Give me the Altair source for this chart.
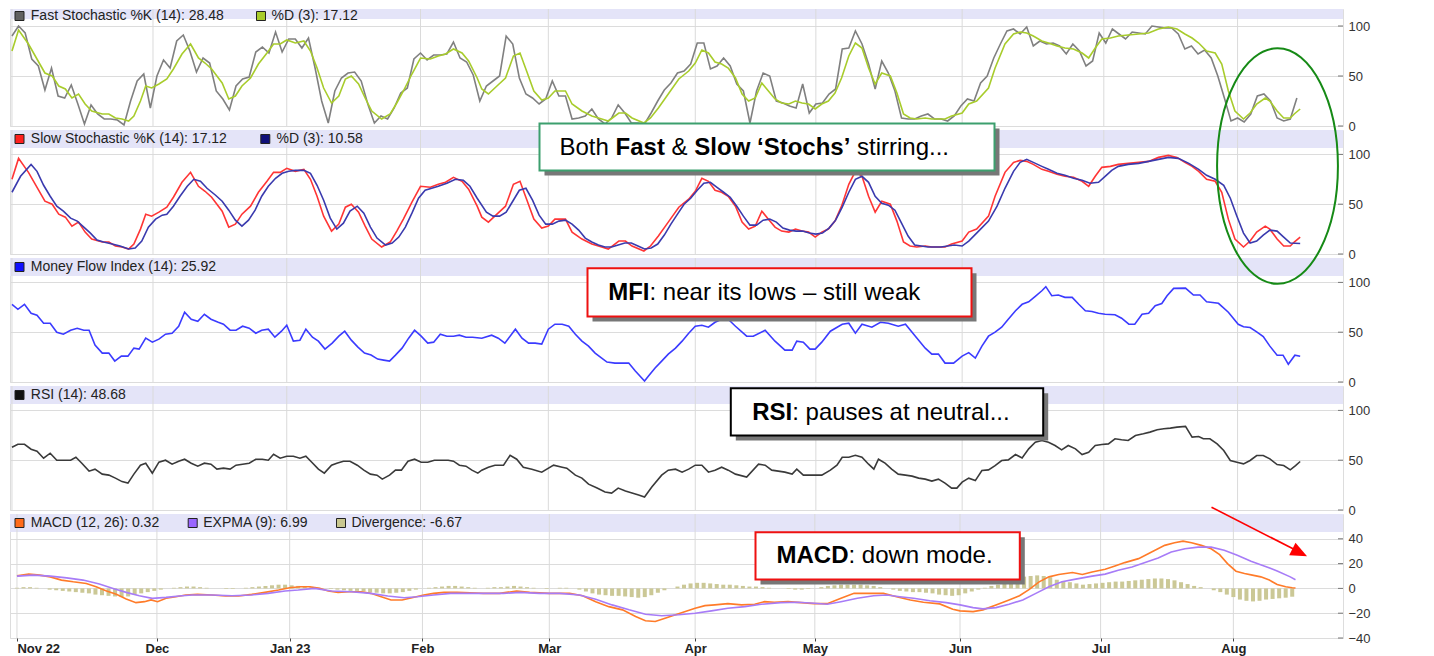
import altair as alt
import pandas as pd

FONT = "Liberation Sans"
W = 1333
H_TOP = 117
H = 124
X_DOMAIN = [-0.3, 202]
BAND = "#e4e4f8"

# month start positions (trading-day units) and labels
MONTH_POS = [0, 21.4, 41.7, 62, 81.4, 103.7, 122, 144.2, 165.7, 186]
MONTH_LABELS = ["Nov 22", "Dec", "Jan 23", "Feb", "Mar", "Apr", "May", "Jun", "Jul", "Aug"]

# ---------------- data ----------------
FAST_K = [90, 100, 93, 67, 60, 36, 58, 30, 28, 41, 22, 2, 21, 12, 7, 7, 6, 1, 25, 45,
          52, 18, 50, 66, 58, 85, 91, 75, 54, 68, 63, 35, 27, 16, 40, 47, 49, 74, 79, 73,
          94, 74, 87, 87, 78, 88, 58, 25, 3, 35, 48, 53, 54, 45, 22, 3, 10, 7, 18, 33,
          38, 67, 73, 66, 71, 71, 72, 84, 68, 64, 51, 25, 40, 45, 50, 90, 82, 48, 32, 28,
          22, 27, 45, 30, 30, 7, 8, 10, 17, 7, 2, 8, 21, 13, 3, 3, 2, 13, 25, 36,
          43, 53, 55, 62, 83, 83, 57, 60, 68, 60, 42, 35, 3, 35, 53, 50, 25, 23, 20, 18,
          42, 13, 22, 23, 32, 37, 77, 78, 95, 82, 62, 37, 65, 53, 35, 8, 7, 7, 10, 12,
          7, 7, 5, 10, 20, 27, 25, 43, 50, 68, 82, 95, 97, 92, 99, 80, 85, 82, 83, 80,
          72, 82, 75, 60, 65, 93, 83, 97, 92, 87, 94, 93, 92, 100, 99, 98, 98, 92, 77, 80,
          72, 76, 68, 50, 28, 5, 8, 4, 12, 30, 32, 25, 8, 5, 7, 28]

FAST_D_T = [0, 1, 2.5, 5, 6.1, 7.1, 8.1, 9.1, 10.1, 11.1, 12.1, 13.7, 14.7, 15.7, 16.7, 17.7,
            18.5, 19.5, 20.3, 21.2, 22.3, 23.5, 24.5, 25.8, 27.1, 28.3, 29.3, 30.3, 31.9, 32.9,
            33.9, 34.9, 36.2, 37.4, 38.7, 39.7, 40.7, 41.7, 43, 44.3, 45.3, 46.3, 47.3, 48.5,
            49.6, 50.6, 51.5, 52.6, 53.6, 54.6, 56.1, 57.4, 58.4, 59.4, 60.7, 62, 63.5, 64.7,
            65.8, 67, 68.3, 69.3, 70.6,
            71.3, 72.3, 73.6, 74.9, 76.1, 77.1, 78.1, 79.2, 80.4, 81.4, 82.4, 84, 85, 86.5, 88,
            89.5, 90.5, 92.1, 93.1, 94.1, 95.9, 96.9, 98.1, 99.6, 101.2, 102.7, 103.7, 104.7,
            105.7, 106.7, 107.7, 108.7, 109.8, 110.8, 111.8, 112.8, 113.8, 114.8, 115.8, 116.8,
            117.9, 118.9, 119.9, 120.9, 121.9, 122.9, 123.9, 124.9, 125.9, 127, 128, 129, 130,
            131, 132, 133.3, 134.3, 135.3, 136.3, 137.3, 138.6, 139.6, 140.6, 141.6, 142.6,
            144.2, 145.2, 146.4, 148.2, 149.2, 150.7, 152, 153, 154, 155, 156.3, 157.3, 158.6,
            159.8, 161.1, 162.4, 163.4, 164.4, 165.4, 166.7, 167.9, 169.4, 171, 172.5, 174,
            175.5, 176.8, 178, 179.1, 180.1, 181.3, 182.6, 183.6, 184.6, 185.6, 186.9, 187.9,
            188.9, 190.2, 190.9, 192, 193, 194, 194.6, 195.5]
FAST_D = [75, 96, 82, 53, 50, 40, 37, 28, 32, 22, 15, 12, 12, 8, 7, 5, 10, 25, 40, 38,
          42, 47, 57, 72, 82, 68, 63, 57, 43, 27, 30, 40, 48, 62, 73, 82, 82, 86, 83, 85,
          75, 58, 38, 23, 30, 47, 50, 42, 28, 15, 7, 12, 23, 35, 52, 68, 67, 70, 72, 77,
          73, 65, 48,
          37, 32, 40, 48, 70, 73, 55, 35, 26, 28, 35, 35, 22, 15, 10, 7, 5, 13, 13, 8,
          3, 8, 18, 32, 47, 55, 63, 76, 73, 64, 62, 58, 48, 32, 25, 28, 43, 35, 27, 23,
          22, 25, 23, 22, 17, 22, 25, 33, 48, 70, 83, 78, 58, 42, 53, 50, 33, 12, 8, 7,
          8, 7, 7, 7, 10,
          13, 22, 25, 38, 58, 82, 92, 94, 93, 90, 85, 83, 80, 78, 77, 73, 68, 78, 87, 88,
          90, 91, 92, 93, 97, 99, 97, 92, 88, 83, 75, 73, 62, 35, 15, 7, 13, 22, 28, 25,
          15, 8, 8, 12, 17]

SLOW_D_T = [0, 1.3, 2.9, 3.8, 4.8, 5.8, 6.8, 7.8, 8.9, 9.9, 10.9, 11.9, 12.9, 13.9, 15.2,
            16.4, 17.7, 18.7, 19.7, 20.7, 21.8, 22.8, 23.5, 24.5, 25.5, 26.6, 27.6, 28.6,
            29.6, 30.9, 31.9, 32.9, 33.9, 34.9, 35.9, 36.9, 37.9, 38.9, 40, 41, 42, 43, 44.3,
            45.3, 46.3, 47.3, 48.3, 49.3, 50.3, 51.3, 52.4, 53.4, 54.4, 55.4, 56.7, 57.7,
            58.7, 59.7, 60.7, 61.7, 62.7, 63.7, 64.7, 66, 67.3, 68.5, 69.5, 70.6,
            72, 73, 74, 75, 76, 77, 78, 79, 80, 81, 82, 83, 84, 85, 86, 87, 88, 89, 90, 91,
            92, 93, 94, 95, 96, 97, 98, 99, 100, 101, 102, 103, 104, 105, 106, 107, 108, 109,
            110, 111, 112, 113, 114, 115, 116, 117, 118, 119, 120, 121, 122, 123, 124, 125,
            126, 127, 128, 129, 130, 131, 132, 133, 134, 135, 136, 137, 138, 139, 140, 141,
            142, 143,
            144.2, 145.2, 146.4, 148.2, 149.5, 150.7, 152, 153, 154, 155, 156.3, 157.3,
            158.6, 159.8, 161.1, 162.4, 163.6, 164.9, 165.9, 166.9, 167.9, 169.4, 171,
            172.5, 174, 175.5, 177, 178.6, 180.1, 181.3, 182.6, 183.9, 184.9, 185.9, 186.9,
            187.9, 188.9, 189.9, 190.9, 192, 193, 194, 195.5]
SLOW_D = [62, 78, 90, 83, 69, 58, 48, 43, 36, 33, 27, 21, 14, 12, 10, 8, 5, 6, 13, 27,
          35, 39, 40, 48, 58, 68, 75, 73, 66, 59, 53, 44, 34, 28, 34, 44, 58, 68, 76, 81,
          83, 84, 84, 81, 69, 54, 36, 25, 31, 43, 48, 41, 27, 16, 9, 11, 17, 27, 41, 56,
          64, 66, 68, 71, 75, 74, 68, 56,
          42, 38, 38, 42, 53, 64, 66, 54, 39, 30, 30, 33, 34, 30, 24, 16, 12, 9, 7, 7,
          9, 11, 11, 8, 5, 6, 10, 19, 30, 40, 50, 56, 64, 71, 72, 67, 62, 57, 48, 38,
          29, 29, 34, 35, 32, 26, 24, 23, 23, 21, 20, 21, 26, 34, 47, 62, 75, 78, 72, 58,
          51, 49, 44, 31, 18, 9, 8, 7, 7, 7, 8, 9,
          8, 13, 21, 33, 48, 66, 83, 92, 95, 92, 88, 85, 81, 79, 76, 74, 71, 72, 78, 84,
          88, 90, 91, 93, 95, 97, 96, 91, 85, 79, 75, 69, 56, 38, 21, 11, 13, 19, 24, 23,
          17, 11, 10.6]

MFI_T = [0, 0.9, 1.9, 2.9, 3.8, 4.8, 5.8, 6.8, 7.8, 8.9, 9.9, 10.9, 11.7, 12.6, 13.7, 14.7,
         15.6, 16.6, 17.6, 18.5, 19.3, 20.3, 21.3, 22.3, 23.3, 24.3, 25.3, 26.2, 27.2, 28.2,
         29.2, 30.2, 31.3, 32.1, 33.1, 34, 35, 36, 37, 37.9, 38.9, 39.9, 40.9, 41.7, 42.7,
         43.7, 44.6, 45.6, 46.5, 47.5, 48.6, 49.6, 50.5, 51.5, 52.5, 53.5, 54.5, 55.5, 56.4,
         57.3, 58.2, 59.2, 60.2, 61.1, 62.1, 63.1, 64, 65, 66, 67, 67.9, 68.9, 69.9,
         71.3, 72.8, 73.8, 74.8, 76.4, 77.4, 78.4, 79.4, 80.4, 81.4, 82.4, 83.5, 84.5, 85.5,
         86.5, 87.5, 88.5, 89.5, 90.3, 91.5, 92.6, 93.6, 94.6, 96, 96.6, 97.6, 98.6, 99.6,
         100.7, 101.7, 102.7, 103.7, 104.7, 105.7, 106.7, 107.7, 108.7, 109.8, 111.5, 112.5,
         114.3, 115.8, 117.3, 118.4, 119.1, 120.1, 121.1, 121.9, 122.9, 124.2, 126, 127, 128,
         129, 130.5, 131.8, 133, 134.5, 135.6, 137.1, 138.6, 139.6, 140.6, 141.6, 142.9,
         144.2, 145.2, 146.2, 147.2, 148.2, 149.2, 150.2, 151.2, 152.3, 153.3, 154.3, 155.3,
         156.3, 156.9, 157.8, 158.8, 159.8, 160.9, 161.9, 162.9, 163.9, 164.9, 165.9, 167.4,
         168.4, 169.5, 170.4, 171.5, 172.5, 173.5, 174.5, 175.3, 176.3, 178.1, 179.3, 180.3,
         181.3, 183.1, 184.6, 186.1, 186.9, 187.9, 188.9, 189.9, 190.9, 192, 192.9, 193.7,
         194.7, 195.5]
MFI = [78, 73, 78, 69, 67, 59, 59, 50, 48, 52, 54, 52, 52, 37, 29, 29, 21, 26, 26, 34,
       33, 44, 40, 43, 48, 49, 56, 70, 63, 61, 68, 63, 60, 58, 52, 52, 56, 54, 49, 52,
       53, 45, 51, 57, 41, 42, 53, 45, 41, 33, 39, 46, 51, 42, 35, 29, 27, 23, 22, 21,
       27, 34, 44, 52, 46, 39, 40, 48, 46, 46, 47, 45, 45,
       44, 47, 44, 39, 53, 44, 39, 39, 38, 53, 58, 58, 56, 48, 41, 36, 29, 24, 20, 19,
       19, 19, 11, 1, 6, 14, 21, 28, 34, 41, 49, 56, 57, 55, 60, 63, 63, 56, 46, 46,
       52, 41, 32, 32, 41, 40, 33, 33, 40, 51, 58, 59, 49, 58, 55, 60, 59, 56, 58, 46,
       34, 28, 28, 19, 19,
       26, 29.5, 24, 36, 46, 50, 55, 63, 71.5, 78, 80.5, 86, 91.6, 95.7, 86.6, 87.3, 85,
       85, 78, 71.5, 70.8, 69, 68, 67.5, 64, 58, 58, 68, 69, 76.5, 78.8, 86.6, 94, 94.3,
       87.3, 87.3, 80.5, 79, 70, 58, 55.4, 54.7, 50.4, 45.6, 36, 26.9, 26.9, 17.8, 26.9,
       25.9]

RSI_T = [0, 0.9, 1.9, 2.9, 3.8, 4.8, 5.8, 6.8, 7.8, 8.9, 9.7, 10.6, 11.7, 12.6, 13.7, 14.7,
         15.7, 16.7, 17.6, 18.5, 19.5, 20.3, 21.3, 22.3, 23.3, 24.3, 25.3, 26.2, 27.2, 28.2,
         29.2, 30.2, 31.1, 32.1, 33.1, 34, 35, 36, 37, 38, 38.9, 39.7, 40.7, 41.7, 42.7,
         43.7, 44.6, 45.5, 46.5, 47.4, 48.5, 49.3, 50.3, 51.3, 52.4, 53.4, 54.4, 55.4, 56.2,
         57.3, 58.2, 59.1, 60.1, 61.1, 62.1, 63.1, 64.1, 65.1, 66.2, 67, 67.9, 68.9, 69.8,
         70.7,
         71.3, 72.3, 73.3, 74.6, 75.6, 76.6, 77.6, 78.9, 80.4, 82.2, 83.5, 84.2, 85.5, 86.5,
         87.5, 88.8, 90, 91, 92, 93.1, 94.1, 95.1, 96, 97.1, 98.6, 99.6, 100.7, 101.7,
         102.7, 103.7, 104.7, 105.7, 106.7, 107.7, 108.7, 109.8, 111.5, 113.3, 114.3, 115.3,
         116.3, 117.3, 118.4, 119.1, 120.1, 121.1, 122.2, 122.9, 124.2, 125.2, 126, 127,
         128, 129, 130, 130.8, 131.5, 132.5, 133.5, 134.5, 135.6, 136.6, 137.6, 138.6,
         139.6, 140.6, 141.6, 142.6, 143.4,
         144.2, 145.2, 146.2, 147.2, 148.2, 149.2, 150.2, 151.2, 152.3, 153.3, 154.3, 155.3,
         156.3, 157.3, 158.3, 159.3, 160.3, 161.4, 162.4, 163.4, 164.4, 165.4, 166.4, 167.4,
         168.4, 169.4, 170.5, 171.7, 172.7, 173.8, 174.8, 175.8, 176.8, 178.1, 179.1, 180.1,
         180.8, 181.8, 182.9, 183.9, 184.9, 185.9, 186.9, 187.9, 188.9, 189.9, 190.9, 192,
         193, 194, 194.8, 195.5]
RSI = [63, 66, 66, 61, 59, 52, 57, 50, 50, 50, 53, 47, 39, 41, 36, 35, 32, 28.5, 27, 36,
       45, 47, 37, 48, 50, 46, 49, 51, 47, 44, 47, 46, 41, 42, 41, 45, 46, 47, 51, 51,
       50, 56, 52, 54, 54, 52, 54, 48, 41, 37, 45, 47, 49, 49, 45, 40, 36, 35, 31, 35,
       40, 40, 49, 51, 48, 48, 50, 50, 50, 49, 45, 44, 40, 37,
       40, 43, 45, 45, 55, 51, 43, 41, 38, 45, 43, 42, 35, 32, 26, 22, 18, 17, 22, 19,
       17, 15, 13, 23, 35, 40, 41, 38, 41, 45, 45, 38, 40, 43, 40, 36, 33, 46, 45, 40,
       39, 38, 36, 41, 35, 35, 35, 35, 40, 45, 53, 53, 55, 53, 46, 41, 51, 47, 41, 36,
       35, 34, 32, 31, 29, 31, 27, 22, 22,
       28, 32, 29.5, 39.6, 40.3, 44.6, 49.7, 50.3, 55.7, 52.3, 61.4, 68, 69.8, 68, 64.8,
       60.4, 64.8, 61.4, 55.7, 58, 64.8, 65.8, 66.4, 71.5, 70.5, 69.8, 74.8, 76.5, 78.2,
       80.5, 81.5, 82.2, 83.2, 83.9, 73.2, 73.8, 71.5, 71.5, 66.4, 59.7, 49.7, 48, 46.3,
       49.7, 54.7, 54.7, 51.3, 45.6, 44.6, 40.3, 44.6, 48.7]

MACD_T = [0, 1.8, 3.5, 5.1, 6.8, 8.6, 10.6, 12.1, 13.7, 15.2, 16.7, 18.2, 19.5, 20.5, 21.5,
          22.8, 24.3, 25.8, 27.6, 29.8, 31.9, 33.9, 35.9, 37.9, 40, 41.7, 43.3, 44.8, 46.3,
          47.6, 49.1, 50.8, 52.6, 54.1, 55.7, 57.2, 58.9, 60.4, 62.2, 63.7, 65.3, 67.3, 69.3,
          71.3, 73.8, 76.4, 78.4, 81.4, 84.5, 86.5, 88.5, 90.5, 92.6, 94.6, 96.1, 97.6, 99.1,
          100.7, 102.2, 103.7, 105.2, 106.7, 108.7, 110.8, 112.8, 114.3, 115.8, 117.9, 119.9,
          121.9, 123.9, 126, 128, 130, 132.5, 134.5, 136.6, 138.6, 141.1, 143.1,
          144.2, 146.2, 147.7, 149.7, 151.7, 153.3, 154.8, 156.3, 157.8, 159.3, 161.4, 162.9,
          164.4, 166.4, 167.9, 169.4, 171.5, 173.5, 175.5, 177, 178.3, 179.6, 181.1, 182.6,
          183.9, 185.1, 186.4, 187.7, 188.9, 190.2, 191.5, 192.7, 194, 195, 195.5]
MACD = [10.1, 11.5, 10.7, 9.3, 6.7, 5.3, 4, 1.3, -2.1, -4.8, -8.5, -11.5, -10.7, -9.3, -10.7,
        -8, -6.7, -5.3, -4.8, -5.3, -6.1, -6.1, -4.8, -3.2, -1.3, 0.5, 1.3, 1.3, 0, -2.1,
        -3.2, -2.7, -2.7, -4, -6.7, -9.3, -9.3, -7.5, -5.3, -4, -3.2, -3.2, -3.5,
        -4, -4, -2.1, -3.2, -4, -4, -5.9, -10.7, -14.7, -17.3, -22.7, -26.1, -26.7, -24,
        -21.3, -18.7, -16, -13.9, -13.3, -12.3, -13.3, -12.8, -10.7, -11.2, -10.7, -11.5,
        -12.3, -12.3, -8, -4, -4, -4, -6.7, -9.3, -11.2, -12.5, -16.8,
        -18.1, -18.7, -17.3, -13.3, -9.3, -5.9, -0.8, 5.3, 9.3, 11.2, 12.8, 11.2, 13.3, 15.5,
        18.1, 20.8, 24, 29.3, 34.7, 36.8, 38.1, 36.8, 34.7, 32, 27.2, 20, 13.9, 12, 10.7,
        9.3, 6.7, 3.2, 1.3, 0.5, 0.3]

SIGNAL_T = [0, 2.5, 5.1, 7.6, 10.1, 12.6, 14.7, 16.7, 18.7, 20.7, 22.8, 24.8, 26.8, 29.8,
            32.9, 35.9, 38.4, 41, 43, 45.5, 48.1, 51.1, 54.1, 56.7, 59.2, 61.2, 63.7, 66.3,
            69.3,
            71.3, 74.4, 76.9, 79.9, 83, 86, 88.5, 91, 93.6, 96.1, 98.6, 101.2, 103.7, 106.2,
            108.7, 111.3, 113.8, 116.8, 119.4, 121.9, 123.9, 126, 128.5, 131, 133, 135, 137.1,
            139.6, 142.1,
            144.2, 146.2, 147.7, 149.7, 151.7, 153.8, 155.8, 157.8, 159.8, 161.9, 164.4,
            166.4, 168.4, 170.5, 172.5, 174.5, 176.5, 178.6, 180.6, 182.6, 184.6, 186.6,
            188.7, 190.7, 192.7, 194.7, 195.5]
SIGNAL = [9.9, 10.7, 9.9, 8.5, 6.7, 3.5, 0, -3.2, -5.9, -8, -7.2, -6.1, -5.3, -5.3, -5.9,
          -5.3, -4, -2.1, -1.3, 0, -2.1, -2.7, -4, -6.1, -7.5, -6.7, -5.3, -4, -4,
          -4, -4, -3.2, -4, -4, -5.3, -8.8, -13.3, -17.3, -20.8, -22.1, -21.3, -20, -18.1,
          -16, -14.7, -12.8, -11.5, -11.2, -12, -12.8, -10.7, -8, -5.9, -5.3, -6.7, -8, -9.9,
          -11.5,
          -13.3, -15.5, -16.5, -15.5, -12.8, -9.3, -4, 1.3, 5.3, 7.5, 9.9, 11.5, 14.7, 17.3,
          20.8, 24.5, 29.3, 32, 33.3, 33.3, 30.7, 26.7, 21.9, 18.1, 14.1, 9.3, 7]

DIVERGENCE = [0.5, 1, 1, 0.5, 0, -1, -1.5, -2, -2.5, -3,
              -3.5, -4, -5, -5.5, -6, -6.5, -7, -6.5, -5, -4,
              -3, -2, -1, 0, 0.5, 1, 1.5, 1.5, 1, 0.5,
              0, 0, -0.5, -0.5, 0, 0.5, 1, 1.5, 2, 2.5,
              3, 3, 2.5, 2, 1.5, 1, 0.5, 0, -0.5, -1,
              -1.5, -2, -2, -2.5, -3, -3.5, -4, -4, -3.5, -3,
              -2, -1, 0, 0.5, 1, 1.5, 2, 2, 1.5, 1,
              0.5, 0, 0.5, 1, 1, 1.5, 2, 1.5, 1, 0.5,
              0, -0.5, 0, 0.5, 0.5, 0, -1, -2.5, -4, -5,
              -5.5, -6, -6, -6.5, -7, -7.5, -7, -5.5, -3.5, -1.5,
              0, 1.5, 3, 4, 4.5, 4.5, 4, 3.5, 3, 3,
              2.5, 2, 1.5, 1.5, 1, 0.5, 0, 0, -0.5, -1,
              -1, -0.5, 0, 1, 2, 2.5, 3, 3, 3, 3,
              2.5, 2, 1, 0, -1, -2, -2.5, -3, -3, -3.5,
              -4, -5, -5.5, -6, -5.5, -4, -2.5, -1, 0.5, 2,
              3, 4.5, 6, 8, 9.5, 10, 10.5, 10, 9, 7,
              6, 5, 4, 3, 3.5, 4, 4.5, 5, 5.5, 5.5,
              6, 6.5, 7, 7.5, 8, 8, 7.5, 6.5, 5, 3.5,
              2, 1, 0, -1.5, -3, -5, -7, -9, -10, -10.5,
              -10, -9, -8.5, -8, -7.5, -6.7]

# ---------------- helpers ----------------
ONE = alt.Data(values=[{"k": 0}])
xscale = alt.Scale(domain=X_DOMAIN, nice=False, zero=False)

LABEL_EXPR = ""
for p, l in zip(MONTH_POS, MONTH_LABELS):
    LABEL_EXPR += f"abs(datum.value - {p}) < 0.05 ? '{l}' : "
LABEL_EXPR += "''"


def df(ts, vs):
    return pd.DataFrame({"t": ts, "v": vs})


def make_panel(h, ydom, yticks, band_px, series, header_items, header_y,
               bottom=False, bars=None, extras=()):
    yscale = alt.Scale(domain=ydom, nice=False, zero=False)
    yax = alt.Axis(orient="right", values=yticks, grid=True, gridColor="#dcdcdc",
                   gridWidth=1, ticks=False, domain=False, labelPadding=5,
                   labelFont=FONT, labelFontSize=13, labelColor="#333", title=None)
    if bottom:
        xax = alt.Axis(values=MONTH_POS, labelExpr=LABEL_EXPR, grid=False, domain=False,
                       ticks=True, tickSize=3, tickColor="#444", labelFont=FONT,
                       labelFontSize=13, labelFontWeight="bold", labelColor="#222",
                       labelPadding=1, labelFlush=12, labelOverlap=False, title=None)
    else:
        xax = alt.Axis(values=MONTH_POS, labels=False, ticks=False, domain=False,
                       grid=False, title=None)
    X = alt.X("t:Q", scale=xscale, axis=xax)
    Y = alt.Y("v:Q", scale=yscale, axis=yax)

    layers = []
    layers.append(alt.Chart(ONE).mark_rect(color=BAND).encode(
        x=alt.value(0), x2=alt.value(W), y=alt.value(0), y2=alt.value(band_px)))
    layers.append(alt.Chart(pd.DataFrame({"t": MONTH_POS})).mark_rule(
        color="#dadada", strokeWidth=1).encode(x=X))
    layers.append(alt.Chart(pd.DataFrame({"v": yticks})).mark_rule(
        color="#777", strokeWidth=1).encode(y=Y, x=alt.value(W - 5), x2=alt.value(W)))
    if bars is not None:
        layers.append(alt.Chart(bars).mark_bar(color="#cbc896", size=4).encode(x=X, y=Y))
    for data, color in series:
        layers.append(alt.Chart(data).mark_line(color=color, strokeWidth=1.6).encode(x=X, y=Y))
    for sq_x, color, tx, label in header_items:
        layers.append(alt.Chart(ONE).mark_rect(fill=color, stroke="#222", strokeWidth=1).encode(
            x=alt.value(sq_x), x2=alt.value(sq_x + 9), y=alt.value(header_y - 4.5),
            y2=alt.value(header_y + 4.5)))
        layers.append(alt.Chart(ONE).mark_text(
            text=label, align="left", baseline="middle", font=FONT, fontSize=14,
            color="#222").encode(x=alt.value(tx), y=alt.value(header_y)))
    layers.extend(extras)
    return alt.layer(*layers).properties(width=W, height=h)


def box(x1, y1, x2, y2, border, segments, ty):
    out = [
        alt.Chart(ONE).mark_rect(fill="#777777").encode(
            x=alt.value(x1 + 5), x2=alt.value(x2 + 5), y=alt.value(y1 + 5), y2=alt.value(y2 + 5)),
        alt.Chart(ONE).mark_rect(fill="white", stroke=border, strokeWidth=2).encode(
            x=alt.value(x1), x2=alt.value(x2), y=alt.value(y1), y2=alt.value(y2)),
    ]
    for tx, txt, weight in segments:
        out.append(alt.Chart(ONE).mark_text(
            text=txt, align="left", baseline="middle", font=FONT, fontSize=24,
            fontWeight=weight, color="#000").encode(x=alt.value(tx), y=alt.value(ty)))
    return out


ELLIPSE = ("M 0.513 0 C 0.513 0.552 0.283 1 0 1 C -0.283 1 -0.513 0.552 -0.513 0 "
           "C -0.513 -0.552 -0.283 -1 0 -1 C 0.283 -1 0.513 -0.552 0.513 0 Z")
ARROW = "M -1 -0.85 L 1 0 L -1 0.85 Z"

# ---------------- panels ----------------
p1 = make_panel(
    H_TOP, [0, 117], [0, 50, 100], 10,
    [(df(list(range(len(FAST_K))), FAST_K), "#808080"), (df(FAST_D_T, FAST_D), "#a8cc2c")],
    [(5, "#606060", 20.8, "Fast Stochastic %K (14): 28.48"),
     (246.5, "#a8cc2c", 261.5, "%D (3): 17.12")],
    7)

green_box = box(529.5, -6.5, 984.5, 40.5, "#3c9f6e",
                [(549.5, "Both", "normal"), (605.6, "Fast", "bold"), (661.6, "&", "normal"),
                 (684.3, "Slow \u2018Stochs\u2019", "bold"), (847, "stirring...", "normal")], 17.5)
p2 = make_panel(
    H, [0, 124.5], [0, 50, 100], 18,
    [(df(FAST_D_T, FAST_D), "#ff3535"), (df(SLOW_D_T, SLOW_D), "#3a3aae")],
    [(5, "#ff2020", 20.8, "Slow Stochastic %K (14): 17.12"),
     (250.8, "#10107a", 266.5, "%D (3): 10.58")],
    9, extras=green_box)

mfi_box = box(577.5, 10.2, 961.5, 58.5, "#ee1111",
              [(598.2, "MFI", "bold"), (639.5, ": near its lows \u2013 still weak", "normal")], 34.5)
ellipse = [alt.Chart(ONE).mark_point(
    shape=ELLIPSE, size=55500, filled=False, color="#168a16", strokeWidth=2,
    opacity=1).encode(x=alt.value(1267.5), y=alt.value(-92))]
p3 = make_panel(
    H, [0, 124.5], [0, 50, 100], 18,
    [(df(MFI_T, MFI), "#3b3bff")],
    [(5, "#1010ff", 20.8, "Money Flow Index (14): 25.92")],
    9, extras=mfi_box + ellipse)

rsi_box = box(720.8, 2.2, 1033.2, 49.5, "#000000",
              [(742.2, "RSI", "bold"), (782.2, ": pauses at neutral...", "normal")], 26.5)
p4 = make_panel(
    H, [0, 124.5], [0, 50, 100], 18,
    [(df(RSI_T, RSI), "#3a3a3a")],
    [(5, "#111111", 20.8, "RSI (14): 48.68")],
    9, extras=rsi_box)

macd_box = box(745.5, 18.2, 1009.8, 65.5, "#ee1111",
               [(766.5, "MACD", "bold"), (838.5, ": down mode.", "normal")], 42)
arrow = [
    alt.Chart(ONE).mark_rule(color="#ff0000", strokeWidth=1.6).encode(
        x=alt.value(1201.5), y=alt.value(-6.8), x2=alt.value(1283.5), y2=alt.value(35)),
    alt.Chart(ONE).mark_point(shape=ARROW, size=272, filled=True, color="#ff0000",
                              angle=26.8, opacity=1).encode(
        x=alt.value(1289.7), y=alt.value(38.6)),
]
p5 = make_panel(
    H, [-40, 60], [-40, -20, 0, 20, 40], 18,
    [(df(MACD_T, MACD), "#ff7b29"), (df(SIGNAL_T, SIGNAL), "#a77cf7")],
    [(5, "#ff6a1a", 20.8, "MACD (12, 26): 0.32"),
     (178.2, "#9a66ff", 193.2, "EXPMA (9): 6.99"),
     (326.5, "#c9c78f", 341.5, "Divergence: -6.67")],
    9, bottom=True, bars=df(list(range(len(DIVERGENCE))), DIVERGENCE),
    extras=macd_box + arrow)

chart = alt.vconcat(p1, p2, p3, p4, p5, spacing=4, bounds="flush", padding=0).configure_view(
    stroke="#9a9a9a", strokeWidth=1.5).configure(background="white")

chart.save("out.html", embed_options={"renderer": "svg", "actions": False})
